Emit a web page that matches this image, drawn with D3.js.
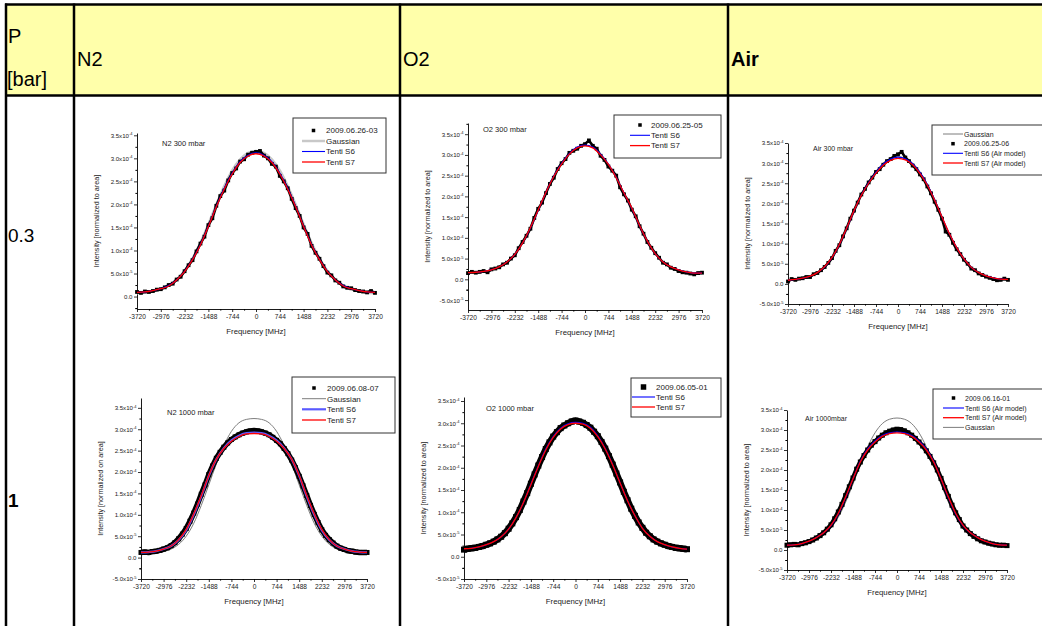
<!DOCTYPE html>
<html>
<head>
<meta charset="utf-8">
<script src="https://cdn.jsdelivr.net/npm/d3@7"></script>
<style>
  body { margin: 0; background: #fff; }
  svg { display: block; font-family: "Liberation Sans", Arial, sans-serif; }
</style>
</head>
<body>
<svg id="page" width="1042" height="626"></svg>
<script>
// frequency grids [MHz]
const dataFreq = [-3720,-3596,-3472,-3348,-3224,-3100,-2976,-2852,-2728,-2604,-2480,-2356,-2232,-2108,-1984,-1860,-1736,-1612,-1488,-1364,-1240,-1116,-992,-868,-744,-620,-496,-372,-248,-124,0,124,248,372,496,620,744,868,992,1116,1240,1364,1488,1612,1736,1860,1984,2108,2232,2356,2480,2604,2728,2852,2976,3100,3224,3348,3472,3596,3720];
const fitFreq = [-3720,-3472,-3224,-2976,-2728,-2480,-2232,-1984,-1736,-1488,-1240,-992,-744,-496,-248,0,248,496,744,992,1240,1488,1736,1984,2232,2480,2728,2976,3224,3472,3720];
const xTicks = [-3720,-2976,-2232,-1488,-744,0,744,1488,2232,2976,3720];
const yTicks = [-0.5,0,0.5,1,1.5,2,2.5,3,3.5];   // x 1e-4

// table headings
const gases = ["N2", "O2", "Air"];
const pressures = ["0.3", "1"];

// intensities, units of 1e-4 (normalized to area)
const n2_300_data = [0.10,0.08,0.11,0.10,0.12,0.15,0.16,0.20,0.25,0.28,0.37,0.43,0.55,0.68,0.79,0.98,1.15,1.30,1.55,1.70,1.97,2.18,2.30,2.52,2.68,2.78,2.93,2.98,3.08,3.12,3.14,3.16,3.06,3.00,2.88,2.82,2.62,2.50,2.35,2.12,1.92,1.75,1.50,1.36,1.10,0.95,0.82,0.66,0.52,0.46,0.35,0.30,0.22,0.19,0.18,0.14,0.12,0.11,0.09,0.12,0.08];
const n2_300_gauss = [0.07,0.08,0.11,0.16,0.24,0.37,0.56,0.83,1.17,1.57,2.00,2.40,2.74,2.98,3.12,3.16,3.12,2.98,2.74,2.40,2.00,1.57,1.17,0.83,0.56,0.37,0.24,0.16,0.11,0.08,0.07];
const n2_300_s6 = [0.09,0.10,0.13,0.17,0.24,0.36,0.55,0.81,1.13,1.53,1.96,2.35,2.68,2.93,3.07,3.12,3.07,2.93,2.68,2.35,1.96,1.53,1.13,0.81,0.55,0.36,0.24,0.17,0.13,0.10,0.09];
const n2_300_s7 = [0.09,0.10,0.13,0.17,0.23,0.36,0.54,0.80,1.12,1.52,1.95,2.33,2.66,2.91,3.05,3.10,3.05,2.91,2.66,2.33,1.95,1.52,1.12,0.80,0.54,0.36,0.23,0.17,0.13,0.10,0.09];

const o2_300_data = [0.15,0.18,0.16,0.18,0.20,0.17,0.24,0.26,0.29,0.36,0.40,0.50,0.58,0.75,0.90,1.05,1.22,1.48,1.70,1.85,2.08,2.30,2.45,2.66,2.80,2.90,3.05,3.10,3.15,3.22,3.26,3.35,3.22,3.15,2.98,2.88,2.72,2.62,2.50,2.22,2.05,1.90,1.68,1.52,1.28,1.10,0.90,0.76,0.63,0.52,0.40,0.36,0.28,0.25,0.20,0.17,0.16,0.14,0.12,0.15,0.16];
const o2_300_s6 = [0.16,0.17,0.19,0.23,0.30,0.42,0.60,0.88,1.24,1.66,2.10,2.49,2.80,3.04,3.19,3.24,3.19,3.02,2.78,2.46,2.08,1.71,1.29,0.92,0.62,0.42,0.30,0.23,0.18,0.15,0.15];
const o2_300_s7 = [0.16,0.17,0.19,0.23,0.30,0.42,0.60,0.88,1.25,1.67,2.10,2.48,2.78,3.02,3.17,3.22,3.17,3.00,2.77,2.45,2.08,1.72,1.30,0.92,0.62,0.42,0.30,0.23,0.18,0.15,0.15];

const air_300_data = [0.06,0.12,0.10,0.13,0.14,0.17,0.17,0.24,0.27,0.34,0.42,0.52,0.64,0.82,0.96,1.18,1.38,1.62,1.82,2.02,2.22,2.36,2.52,2.64,2.78,2.85,2.96,3.05,3.10,3.18,3.22,3.28,3.14,3.05,2.94,2.85,2.72,2.60,2.42,2.25,2.04,1.84,1.62,1.30,1.22,1.02,0.86,0.74,0.60,0.50,0.38,0.34,0.26,0.22,0.18,0.15,0.12,0.09,0.10,0.13,0.10];
const air_300_gauss = [0.08,0.10,0.13,0.18,0.27,0.42,0.65,0.97,1.38,1.82,2.22,2.54,2.80,3.00,3.12,3.16,3.12,3.00,2.78,2.47,2.08,1.65,1.24,0.89,0.61,0.40,0.27,0.19,0.14,0.11,0.10];
const air_300_s6 = [0.09,0.11,0.14,0.19,0.28,0.42,0.65,0.97,1.38,1.81,2.21,2.52,2.78,2.98,3.10,3.15,3.11,2.99,2.77,2.47,2.09,1.66,1.25,0.90,0.62,0.41,0.28,0.20,0.15,0.12,0.11];
const air_300_s7 = [0.09,0.11,0.14,0.19,0.28,0.43,0.66,0.98,1.39,1.82,2.20,2.50,2.75,2.95,3.07,3.12,3.08,2.96,2.74,2.45,2.08,1.66,1.25,0.90,0.62,0.41,0.28,0.20,0.15,0.12,0.11];

const n2_1000_data = [0.12,0.13,0.12,0.14,0.15,0.17,0.20,0.23,0.28,0.35,0.44,0.55,0.68,0.85,1.04,1.25,1.48,1.70,1.94,2.14,2.32,2.46,2.58,2.68,2.76,2.82,2.87,2.91,2.94,2.96,2.97,2.96,2.94,2.91,2.87,2.81,2.74,2.66,2.55,2.43,2.28,2.10,1.90,1.68,1.45,1.22,1.01,0.82,0.65,0.52,0.42,0.34,0.27,0.22,0.19,0.16,0.15,0.13,0.12,0.12,0.12];
const n2_1000_gauss = [0.10,0.10,0.11,0.14,0.20,0.31,0.50,0.80,1.22,1.70,2.19,2.62,2.95,3.15,3.23,3.25,3.23,3.15,2.95,2.62,2.19,1.70,1.22,0.80,0.50,0.31,0.20,0.14,0.11,0.10,0.10];
const n2_1000_s6 = [0.12,0.13,0.15,0.20,0.27,0.41,0.64,1.00,1.43,1.91,2.30,2.56,2.74,2.85,2.91,2.92,2.91,2.85,2.74,2.56,2.30,1.91,1.43,1.00,0.64,0.41,0.27,0.20,0.15,0.13,0.12];
const n2_1000_s7 = [0.12,0.13,0.15,0.20,0.27,0.42,0.66,1.02,1.45,1.92,2.30,2.55,2.72,2.83,2.89,2.90,2.89,2.83,2.72,2.55,2.30,1.92,1.45,1.02,0.66,0.42,0.27,0.20,0.15,0.13,0.12];

const o2_1000_data = [0.16,0.18,0.19,0.20,0.22,0.24,0.27,0.30,0.34,0.39,0.45,0.53,0.63,0.75,0.89,1.05,1.24,1.43,1.64,1.85,2.05,2.24,2.42,2.57,2.70,2.80,2.89,2.95,3.00,3.04,3.06,3.04,3.01,2.96,2.90,2.81,2.71,2.58,2.43,2.26,2.07,1.87,1.67,1.46,1.27,1.08,0.92,0.77,0.65,0.54,0.46,0.39,0.34,0.30,0.27,0.24,0.22,0.20,0.19,0.18,0.17];
const o2_1000_s6 = [0.18,0.19,0.22,0.27,0.34,0.45,0.62,0.88,1.22,1.63,2.04,2.42,2.70,2.89,2.99,3.02,3.00,2.91,2.72,2.43,2.07,1.66,1.26,0.92,0.64,0.46,0.34,0.27,0.22,0.19,0.17];
const o2_1000_s7 = [0.18,0.19,0.22,0.27,0.34,0.45,0.62,0.88,1.22,1.62,2.03,2.40,2.68,2.87,2.97,3.00,2.98,2.89,2.70,2.42,2.06,1.66,1.26,0.92,0.64,0.46,0.34,0.27,0.22,0.19,0.17];

const air_1000_data = [0.12,0.13,0.14,0.13,0.16,0.18,0.21,0.25,0.30,0.36,0.43,0.52,0.63,0.78,0.95,1.14,1.36,1.58,1.80,2.02,2.20,2.36,2.50,2.62,2.71,2.80,2.87,2.93,2.97,3.00,3.02,3.01,2.98,2.93,2.87,2.79,2.70,2.60,2.48,2.34,2.18,2.00,1.79,1.56,1.34,1.12,0.93,0.76,0.60,0.50,0.41,0.34,0.28,0.23,0.20,0.17,0.15,0.13,0.12,0.12,0.11];
const air_1000_gauss = [0.10,0.11,0.13,0.18,0.26,0.38,0.55,0.82,1.20,1.65,2.13,2.58,2.93,3.16,3.27,3.30,3.27,3.16,2.93,2.58,2.13,1.65,1.20,0.82,0.55,0.38,0.26,0.18,0.13,0.11,0.10];
const air_1000_s6 = [0.12,0.13,0.16,0.22,0.31,0.43,0.61,0.90,1.31,1.78,2.22,2.53,2.73,2.86,2.93,2.95,2.93,2.86,2.73,2.53,2.22,1.78,1.31,0.90,0.61,0.43,0.31,0.22,0.16,0.13,0.12];
const air_1000_s7 = [0.12,0.13,0.16,0.22,0.31,0.43,0.62,0.92,1.33,1.78,2.20,2.50,2.70,2.84,2.91,2.93,2.91,2.84,2.70,2.50,2.20,1.78,1.33,0.92,0.62,0.43,0.31,0.22,0.16,0.13,0.12];

// series styles
const GAUSS_LIGHT = {color: "#c8c8c8", width: 2.5};
const GAUSS_DARK = {color: "#6e6e6e", width: 0.9};
const S6 = {color: "#0000ff", width: 1.1};
const S6_WIDE = {color: "#5a5aff", width: 2.2};
const S7 = {color: "#ff0000", width: 1.3};

const panels = [
  {x0: 137, x1: 375, yTop: 133, yBot: 309, yDom: [-0.27, 3.55], title: "N2 300 mbar", titleX: 162, titleY: 146, titleSize: 7.5,
   yTitle: "Intensity [normalized to area]", data: n2_300_data, sq: 3.8, band: 2.6,
   gauss: n2_300_gauss, gaussStyle: GAUSS_LIGHT, s6: n2_300_s6, s6Style: S6, s7: n2_300_s7,
   legend: {x: 293, y: 118, w: 93, h: 55, rows: [130.5, 141, 151.5, 162], lx: [302, 325], font: 8,
     items: [{sq: 3.5, label: "2009.06.26-03"}, {line: GAUSS_LIGHT, label: "Gaussian"}, {line: S6, label: "Tenti S6"}, {line: S7, label: "Tenti S7"}]}},
  {x0: 468, x1: 702, yTop: 123, yBot: 310, yDom: [-0.74, 3.77], title: "O2 300 mbar", titleX: 483, titleY: 132, titleSize: 7.5,
   yTitle: "Intensity [normalized to area]", data: o2_300_data, sq: 3.8, band: 2.6,
   s6: o2_300_s6, s6Style: S6, s7: o2_300_s7,
   legend: {x: 614, y: 115, w: 107, h: 43, rows: [125, 135.3, 145.6], lx: [630, 650], font: 8,
     items: [{sq: 3.5, label: "2009.06.25-05"}, {line: S6, label: "Tenti S6"}, {line: S7, label: "Tenti S7"}]}},
  {x0: 788, x1: 1008, yTop: 143, yBot: 304, yDom: [-0.5, 3.5], title: "Air 300 mbar", titleX: 813, titleY: 151, titleSize: 7,
   yTitle: "Intensity [normalized to area]", data: air_300_data, sq: 3.8, band: 2.6,
   gauss: air_300_gauss, gaussStyle: GAUSS_DARK, s6: air_300_s6, s6Style: S6, s7: air_300_s7,
   legend: {x: 932, y: 125, w: 115, h: 50, rows: [134, 143.7, 153.3, 163], lx: [943, 963], font: 7,
     items: [{line: GAUSS_DARK, label: "Gaussian"}, {sq: 3.5, label: "2009.06.25-06"}, {line: S6, label: "Tenti S6 (Air model)"}, {line: S7, label: "Tenti S7 (Air model)"}]}},
  {x0: 141, x1: 367, yTop: 398, yBot: 579, yDom: [-0.5, 3.73], title: "N2 1000 mbar", titleX: 167, titleY: 415, titleSize: 7.5,
   yTitle: "Intensity [normalized on area]", data: n2_1000_data, sq: 5, band: 5.5,
   gauss: n2_1000_gauss, gaussStyle: GAUSS_DARK, s6: n2_1000_s6, s6Style: S6_WIDE, s7: n2_1000_s7,
   legend: {x: 292, y: 377, w: 103, h: 56, rows: [388, 398.7, 409.3, 420], lx: [302, 326], font: 8,
     items: [{sq: 3.5, label: "2009.06.08-07"}, {line: GAUSS_DARK, label: "Gaussian"}, {line: S6_WIDE, label: "Tenti S6"}, {line: S7, label: "Tenti S7"}]}},
  {x0: 464, x1: 687, yTop: 397, yBot: 579, yDom: [-0.5, 3.59], title: "O2 1000 mbar", titleX: 486, titleY: 411, titleSize: 7.5,
   yTitle: "Intensity [normalized to area]", data: o2_1000_data, sq: 6, band: 6.5,
   s6: o2_1000_s6, s6Style: S6, s7: o2_1000_s7,
   legend: {x: 631, y: 378, w: 90, h: 39, rows: [387, 397, 407], lx: [632, 655], font: 8,
     items: [{sq: 5.5, label: "2009.06.05-01"}, {line: S6, label: "Tenti S6"}, {line: S7, label: "Tenti S7"}]}},
  {x0: 787, x1: 1007, yTop: 410, yBot: 570, yDom: [-0.5, 3.5], title: "Air 1000mbar", titleX: 805, titleY: 421, titleSize: 7,
   yTitle: "Intensity [normalized to area]", data: air_1000_data, sq: 5, band: 4.5,
   gauss: air_1000_gauss, gaussStyle: GAUSS_DARK, s6: air_1000_s6, s6Style: S6, s7: air_1000_s7,
   legend: {x: 933, y: 389, w: 115, h: 50, rows: [398, 408, 417.7, 427.4], lx: [943, 964], font: 7,
     items: [{sq: 3.5, label: "2009.06.16-01"}, {line: S6, label: "Tenti S6 (Air model)"}, {line: S7, label: "Tenti S7 (Air model)"}, {line: GAUSS_DARK, label: "Gaussian"}]}}
];

const svg = d3.select("#page");

// ---- the table around the plots ----
svg.append("rect").attr("x", 6).attr("y", 5).attr("width", 1040).attr("height", 90).attr("fill", "#ffffaa");
const colX = [6, 74, 400, 728];
svg.selectAll("line.col").data(colX).join("line")
  .attr("class", "col")
  .attr("x1", d => d).attr("x2", d => d).attr("y1", 3.5).attr("y2", 626)
  .attr("stroke", "#000").attr("stroke-width", 2.5);
[4.6, 95.5].forEach(y => {
  svg.append("line").attr("x1", 5).attr("x2", 1042).attr("y1", y).attr("y2", y)
    .attr("stroke", "#000").attr("stroke-width", 2.5);
});

svg.append("text").attr("x", 8).attr("y", 43).attr("font-size", 20).text("P");
svg.append("text").attr("x", 7).attr("y", 86).attr("font-size", 20).text("[bar]");
svg.selectAll("text.gas").data(gases).join("text")
  .attr("class", "gas")
  .attr("x", (d, i) => colX[i + 1] + 3)
  .attr("y", 66)
  .attr("font-size", 20)
  .attr("font-weight", d => d === "Air" ? "bold" : "normal")
  .text(d => d);
svg.selectAll("text.pres").data(pressures).join("text")
  .attr("class", "pres")
  .attr("x", 8)
  .attr("y", (d, i) => i === 0 ? 242 : 507)
  .attr("font-size", 19)
  .attr("font-weight", d => d === "1" ? "bold" : "normal")
  .text(d => d);

// tick label like Origin: 3.5x10^-4, 5.0x10^-5
function yLabel(v) {
  if (v === 0) return {base: "0.0", exp: null};
  if (Math.abs(v) >= 1) return {base: v.toFixed(1) + "x10", exp: "-4"};
  return {base: (v * 10).toFixed(1) + "x10", exp: "-5"};
}

function drawPanel(p) {
  const x = d3.scaleLinear().domain([-3720, 3720]).range([p.x0, p.x1]);
  const y = d3.scaleLinear().domain(p.yDom).range([p.yBot, p.yTop]);
  const g = svg.append("g");

  const major = yTicks.filter(v => v >= p.yDom[0] - 1e-9 && v <= p.yDom[1]);
  const minorY = yTicks.map(v => v + 0.25).concat([-0.25])
    .filter(v => v >= p.yDom[0] && v <= p.yDom[1]);
  const minorX = xTicks.slice(0, -1).map(v => v + 372);

  // minor ticks
  g.append("g").attr("transform", `translate(${p.x0},0)`)
    .call(d3.axisLeft(y).tickValues(minorY).tickSize(1.6).tickFormat(() => "").tickSizeOuter(0))
    .call(a => a.select(".domain").remove());
  g.append("g").attr("transform", `translate(0,${p.yBot})`)
    .call(d3.axisBottom(x).tickValues(minorX).tickSize(1.6).tickFormat(() => "").tickSizeOuter(0))
    .call(a => a.select(".domain").remove());

  // y axis
  const ya = g.append("g").attr("transform", `translate(${p.x0},0)`)
    .call(d3.axisLeft(y).tickValues(major).tickSize(3).tickPadding(1.5).tickSizeOuter(0));
  ya.select(".domain").attr("stroke-width", 0.9);
  ya.selectAll(".tick line").attr("stroke-width", 0.8);
  ya.selectAll(".tick text").attr("font-size", 6.1).attr("font-family", "Liberation Sans")
    .attr("fill", "#222")
    .each(function(d) {
      const lab = yLabel(d);
      const t = d3.select(this).text(null);
      t.append("tspan").text(lab.base);
      if (lab.exp) t.append("tspan").attr("dy", -2.5).attr("font-size", 4).text(lab.exp);
    });

  // x axis
  const xa = g.append("g").attr("transform", `translate(0,${p.yBot})`)
    .call(d3.axisBottom(x).tickValues(xTicks).tickSize(3).tickPadding(2).tickSizeOuter(0)
      .tickFormat(d => String(d)));
  xa.select(".domain").attr("stroke-width", 0.9);
  xa.selectAll(".tick line").attr("stroke-width", 0.8);
  xa.selectAll(".tick text").attr("font-size", 6.6).attr("font-family", "Liberation Sans")
    .attr("fill", "#222");

  // axis titles
  g.append("text")
    .attr("transform", `translate(${p.x0 - 38},${(p.yTop + p.yBot) / 2}) rotate(-90)`)
    .attr("text-anchor", "middle").attr("font-size", 7.2).attr("fill", "#222")
    .text(p.yTitle);
  g.append("text")
    .attr("x", (p.x0 + p.x1) / 2).attr("y", p.yBot + 25)
    .attr("text-anchor", "middle").attr("font-size", 7.8).attr("fill", "#222")
    .text("Frequency [MHz]");

  g.append("text").attr("x", p.titleX).attr("y", p.titleY)
    .attr("font-size", p.titleSize).attr("fill", "#222").text(p.title);

  const line = d3.line()
    .x((d, i) => x(fitFreq[i]))
    .y(d => y(d))
    .curve(d3.curveMonotoneX);
  const dataLine = d3.line()
    .x((d, i) => x(dataFreq[i]))
    .y(d => y(d));

  if (p.gauss) {
    g.append("path").attr("d", line(p.gauss)).attr("fill", "none")
      .attr("stroke", p.gaussStyle.color).attr("stroke-width", p.gaussStyle.width);
  }

  // measured spectrum: dense points merge into a band
  g.append("path").attr("d", dataLine(p.data)).attr("fill", "none")
    .attr("stroke", "#000").attr("stroke-width", p.band).attr("stroke-linejoin", "round");
  g.append("g").selectAll("rect").data(p.data).join("rect")
    .attr("x", (d, i) => x(dataFreq[i]) - p.sq / 2)
    .attr("y", d => y(d) - p.sq / 2)
    .attr("width", p.sq).attr("height", p.sq)
    .attr("fill", "#000");

  g.append("path").attr("d", line(p.s6)).attr("fill", "none")
    .attr("stroke", p.s6Style.color).attr("stroke-width", p.s6Style.width);
  g.append("path").attr("d", line(p.s7)).attr("fill", "none")
    .attr("stroke", S7.color).attr("stroke-width", S7.width);

  // legend
  const L = p.legend;
  const lg = g.append("g");
  lg.append("rect").attr("x", L.x).attr("y", L.y).attr("width", L.w).attr("height", L.h)
    .attr("fill", "#fff").attr("stroke", "#333").attr("stroke-width", 1);
  L.items.forEach((it, i) => {
    const cy = L.rows[i];
    if (it.line) {
      lg.append("line").attr("x1", L.lx[0]).attr("x2", L.lx[1]).attr("y1", cy).attr("y2", cy)
        .attr("stroke", it.line.color).attr("stroke-width", it.line.width);
    } else {
      const cx = (L.lx[0] + L.lx[1]) / 2;
      lg.append("rect").attr("x", cx - it.sq / 2).attr("y", cy - it.sq / 2)
        .attr("width", it.sq).attr("height", it.sq).attr("fill", "#000");
    }
    lg.append("text").attr("x", L.lx[1] + 1).attr("y", cy).attr("dy", "0.36em")
      .attr("font-size", L.font).attr("fill", "#222").text(it.label);
  });
}

panels.forEach(drawPanel);
</script>
</body>
</html>
